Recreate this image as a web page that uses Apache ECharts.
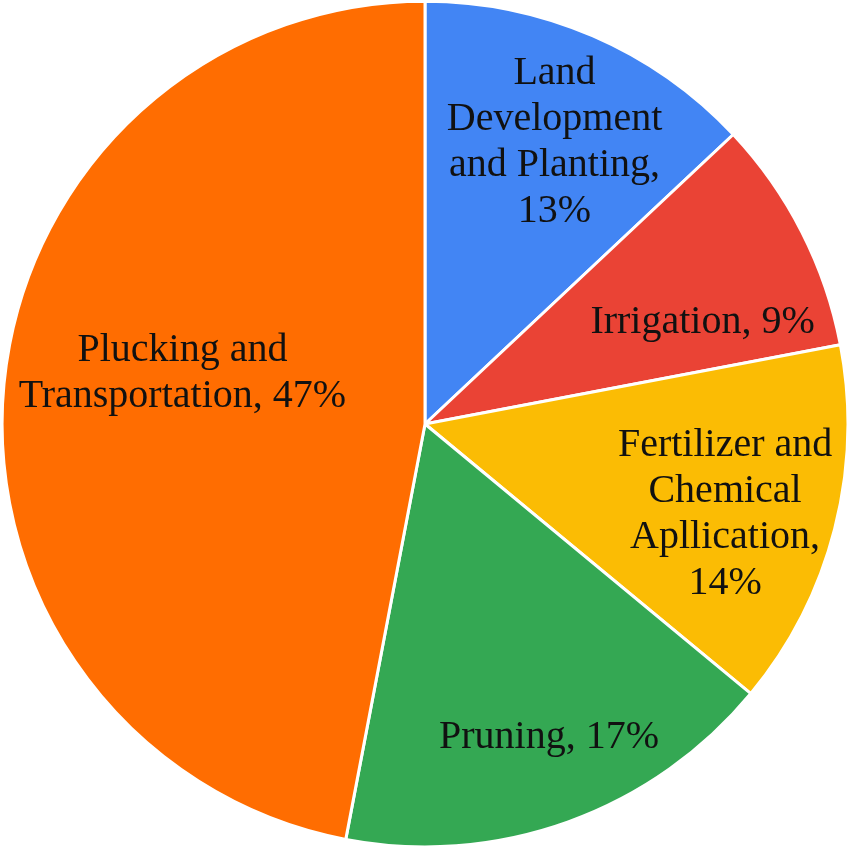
<!DOCTYPE html>
<html>
<head>
<meta charset="utf-8">
<title>Cost share pie</title>
<script src="https://cdn.jsdelivr.net/npm/echarts@6/dist/echarts.min.js"></script>
<style>
  html, body { margin: 0; padding: 0; background: #fff; }
  #chart { width: 850px; height: 853px; }
</style>
</head>
<body>
<div id="chart"></div>
<script>
// slice names (label text, line breaks as in the picture) and shares in %
var categories = [
  'Land\nDevelopment\nand Planting,',
  'Irrigation,',
  'Fertilizer and\nChemical\nApllication,',
  'Pruning,',
  'Plucking and\nTransportation,'
];
var shares = [13, 9, 14, 17, 47];
var sliceColors = ['#4285f4', '#ea4335', '#fbbc04', '#34a853', '#ff6d01'];

var pieData = categories.map(function (name, i) {
  return { name: name, value: shares[i] };
});

// small nudges so labels sit where the original put them
var labelNudge = [[4, 9], [-4, 42], [-6, 12], [17, 16], [72, -21]];

var chart = echarts.init(document.getElementById('chart'));

var option = {
  animation: false,
  color: sliceColors,
  series: [
    {
      // the visible slices
      type: 'pie',
      center: ['50%', '424px'],
      radius: [0, '99.5%'],
      startAngle: 90,
      clockwise: true,
      silent: true,
      label: { show: false },
      labelLine: { show: false },
      itemStyle: {
        borderColor: '#ffffff',
        borderWidth: 3
      },
      data: pieData
    },
    {
      // transparent ring only used to place the labels further out
      type: 'pie',
      center: ['50%', '424px'],
      radius: ['47.8%', '99.5%'],
      startAngle: 90,
      clockwise: true,
      silent: true,
      itemStyle: { color: 'rgba(0,0,0,0)' },
      labelLine: { show: false },
      label: {
        show: true,
        position: 'inside',
        fontFamily: 'Liberation Serif',
        fontSize: 40,
        lineHeight: 46,
        color: '#111',
        align: 'center',
        formatter: function (p) {
          var sep = p.name.indexOf('\n') >= 0 && p.dataIndex !== 4 ? '\n' : ' ';
          return p.name + sep + p.value + '%';
        }
      },
      labelLayout: function (params) {
        var n = labelNudge[params.dataIndex];
        return { dx: n[0], dy: n[1] };
      },
      data: pieData
    }
  ]
};

chart.setOption(option);
</script>
</body>
</html>
